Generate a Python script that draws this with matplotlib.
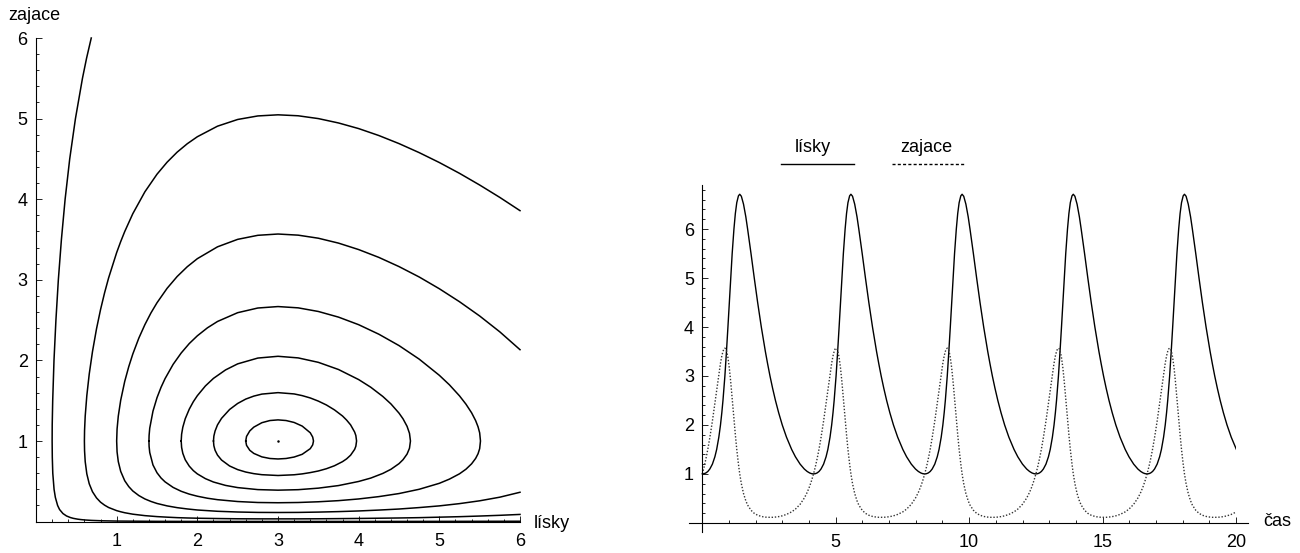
"""Lotka-Volterra: phase portrait (foxes vs hares) and time series of one orbit."""

import matplotlib
matplotlib.use("Agg")
import matplotlib.pyplot as plt
import matplotlib.patches as mpatches
from matplotlib.ticker import MultipleLocator, FixedLocator
import numpy as np

plt.rcParams["font.family"] = ["Liberation Sans", "DejaVu Sans"]

# ---------------------------------------------------------------- phase plot
# outermost open curve (x = foxes, y = hares), top to bottom-right
orbit_a_x = [0.685, 0.627, 0.576, 0.489, 0.418, 0.361, 0.315, 0.277, 0.247, 0.223,
             0.207, 0.201, 0.200, 0.202, 0.208, 0.224, 0.240, 0.268, 0.292, 0.334,
             0.378, 0.427, 0.464, 0.518, 0.557, 0.609, 0.687, 0.821,
             1.0, 1.5, 2.0, 3.0, 4.0, 5.0, 6.0]
orbit_a_y = [6.00, 5.75, 5.50, 5.00, 4.50, 4.00, 3.50, 3.00, 2.50, 2.00,
             1.50, 1.20, 1.00, 0.80, 0.60, 0.40, 0.30, 0.20, 0.15, 0.10,
             0.07, 0.05, 0.04, 0.03, 0.025, 0.02, 0.015, 0.010,
             0.0066, 0.0032, 0.0022, 0.0018, 0.0021, 0.0029, 0.0045]

# open curves leaving the frame at x = 6: upper and lower branch over the same x
orbit_b_x = [0.600, 0.602, 0.61, 0.63, 0.66, 0.70, 0.75, 0.80, 0.85, 0.90, 1.00, 1.05,
             1.10, 1.20, 1.35, 1.50, 1.625, 1.75, 1.875, 2.00, 2.25, 2.50, 2.75, 3.00,
             3.25, 3.50, 3.75, 4.00, 4.25, 4.50, 4.75, 5.00, 5.25, 5.50, 5.75, 6.00]
orbit_b_upper = [1.00, 1.132, 1.309, 1.563, 1.831, 2.108, 2.391, 2.630, 2.838, 3.023, 3.338, 3.474,
                 3.599, 3.820, 4.092, 4.310, 4.459, 4.584, 4.688, 4.775, 4.906, 4.989, 5.033, 5.047,
                 5.035, 5.000, 4.946, 4.876, 4.790, 4.690, 4.578, 4.455, 4.321, 4.176, 4.022, 3.858]
orbit_b_lower = [1.00, 0.879, 0.744, 0.592, 0.469, 0.371, 0.294, 0.241, 0.204, 0.175, 0.136, 0.122,
                 0.110, 0.092, 0.074, 0.062, 0.055, 0.049, 0.045, 0.042, 0.038, 0.035, 0.034, 0.034,
                 0.034, 0.035, 0.037, 0.039, 0.042, 0.045, 0.049, 0.055, 0.061, 0.069, 0.078, 0.089]

orbit_c_x = [1.00, 1.005, 1.02, 1.05, 1.10, 1.15, 1.20, 1.275, 1.35, 1.425, 1.50, 1.625,
             1.75, 1.875, 2.00, 2.25, 2.50, 2.75, 3.00, 3.25, 3.50, 3.75, 4.00, 4.25,
             4.50, 4.75, 5.00, 5.25, 5.50, 5.75, 6.00]
orbit_c_upper = [1.00, 1.148, 1.308, 1.506, 1.740, 1.923, 2.079, 2.277, 2.444, 2.589, 2.715, 2.894,
                 3.041, 3.162, 3.262, 3.409, 3.502, 3.552, 3.568, 3.554, 3.516, 3.455, 3.375, 3.278,
                 3.164, 3.035, 2.889, 2.728, 2.551, 2.354, 2.133]
orbit_c_lower = [1.00, 0.865, 0.745, 0.623, 0.507, 0.434, 0.380, 0.323, 0.281, 0.250, 0.225, 0.195,
                 0.173, 0.157, 0.144, 0.128, 0.119, 0.114, 0.113, 0.114, 0.118, 0.124, 0.132, 0.143,
                 0.156, 0.174, 0.195, 0.223, 0.258, 0.303, 0.364]

# closed orbits around the equilibrium (3, 1)
orbit_d_x = [1.40, 1.402, 1.41, 1.45, 1.50, 1.55, 1.60, 1.70, 1.80, 1.90, 2.00, 2.125,
             2.25, 2.50, 2.75, 3.00, 3.25, 3.50, 3.75, 4.00, 4.25, 4.50, 4.75, 5.00,
             5.125, 5.25, 5.33, 5.40, 5.45, 5.48, 5.50, 5.51]
orbit_d_upper = [1.00, 1.069, 1.159, 1.370, 1.537, 1.666, 1.774, 1.951, 2.092, 2.209, 2.305, 2.404,
                 2.483, 2.592, 2.650, 2.668, 2.652, 2.607, 2.537, 2.443, 2.325, 2.184, 2.016, 1.815,
                 1.697, 1.560, 1.457, 1.350, 1.253, 1.176, 1.101, 1.00]
orbit_d_lower = [1.00, 0.934, 0.857, 0.703, 0.606, 0.541, 0.493, 0.424, 0.376, 0.341, 0.315, 0.290,
                 0.272, 0.249, 0.237, 0.234, 0.237, 0.246, 0.260, 0.281, 0.310, 0.348, 0.401, 0.475,
                 0.527, 0.593, 0.650, 0.717, 0.784, 0.842, 0.905, 1.00]

orbit_e_x = [1.80, 1.805, 1.82, 1.85, 1.90, 1.95, 2.00, 2.10, 2.20, 2.35, 2.50, 2.75,
             3.00, 3.25, 3.50, 3.75, 4.00, 4.15, 4.30, 4.40, 4.50, 4.55, 4.60, 4.63, 4.642]
orbit_e_upper = [1.00, 1.084, 1.171, 1.276, 1.395, 1.487, 1.562, 1.683, 1.777, 1.882, 1.957, 2.029,
                 2.051, 2.031, 1.976, 1.887, 1.762, 1.667, 1.552, 1.460, 1.346, 1.275, 1.182, 1.095, 1.00]
orbit_e_lower = [1.00, 0.921, 0.847, 0.767, 0.688, 0.633, 0.592, 0.533, 0.491, 0.449, 0.422, 0.397,
                 0.390, 0.396, 0.415, 0.447, 0.498, 0.540, 0.598, 0.649, 0.719, 0.768, 0.838, 0.910, 1.00]

orbit_f_x = [2.20, 2.205, 2.22, 2.25, 2.30, 2.40, 2.50, 2.60, 2.70, 2.80, 3.00, 3.20,
             3.30, 3.40, 3.50, 3.60, 3.70, 3.80, 3.85, 3.90, 3.95, 3.965, 3.974]
orbit_f_upper = [1.00, 1.061, 1.124, 1.200, 1.281, 1.391, 1.466, 1.520, 1.557, 1.582, 1.600, 1.584,
                 1.563, 1.534, 1.495, 1.447, 1.386, 1.310, 1.260, 1.200, 1.111, 1.068, 1.00]
orbit_f_lower = [1.00, 0.941, 0.885, 0.825, 0.764, 0.690, 0.645, 0.615, 0.595, 0.582, 0.572, 0.581,
                 0.592, 0.608, 0.628, 0.656, 0.693, 0.744, 0.778, 0.824, 0.896, 0.935, 1.00]

orbit_g_x = [2.60, 2.61, 2.65, 2.70, 2.80, 2.90, 3.00, 3.10, 3.20, 3.30, 3.40, 3.43, 3.44]
orbit_g_upper = [1.00, 1.057, 1.125, 1.172, 1.227, 1.254, 1.262, 1.254, 1.230, 1.185, 1.102, 1.049, 1.00]
orbit_g_lower = [1.00, 0.946, 0.885, 0.846, 0.803, 0.783, 0.777, 0.783, 0.801, 0.835, 0.905, 0.952, 1.00]

equilibrium = (3.0, 1.0)

# ---------------------------------------------------------------- time series
# one period of the orbit starting at foxes = hares = 1
cycle_t = [0.000, 0.069, 0.134, 0.206, 0.280, 0.377, 0.470, 0.537, 0.618, 0.680,
           0.730, 0.773, 0.811, 0.845, 0.876, 0.904, 0.932, 0.959, 1.011, 1.062,
           1.118, 1.184, 1.237, 1.290, 1.353, 1.401, 1.462, 1.543, 1.630, 1.697,
           1.824, 1.946, 2.073, 2.210, 2.284, 2.362, 2.446, 2.535, 2.633, 2.740,
           2.860, 2.995, 3.154, 3.347, 3.488, 3.664, 3.821, 3.929, 4.020, 4.094, 4.167]
cycle_foxes = [1.000, 1.005, 1.020, 1.050, 1.100, 1.200, 1.350, 1.500, 1.750, 2.000,
               2.250, 2.500, 2.750, 3.000, 3.250, 3.500, 3.750, 4.000, 4.500, 5.000,
               5.500, 6.000, 6.318, 6.539, 6.679, 6.711, 6.670, 6.509, 6.249, 6.000,
               5.500, 5.000, 4.500, 4.000, 3.750, 3.500, 3.250, 3.000, 2.750, 2.500,
               2.250, 2.000, 1.750, 1.500, 1.350, 1.200, 1.100, 1.050, 1.020, 1.005, 1.000]
cycle_hares = [1.000, 1.148, 1.308, 1.506, 1.740, 2.079, 2.444, 2.715, 3.041, 3.262,
               3.409, 3.502, 3.552, 3.568, 3.554, 3.516, 3.455, 3.375, 3.164, 2.889,
               2.551, 2.133, 1.800, 1.500, 1.200, 1.000, 0.800, 0.600, 0.450, 0.364,
               0.258, 0.195, 0.156, 0.132, 0.124, 0.118, 0.114, 0.113, 0.114, 0.119,
               0.128, 0.144, 0.173, 0.225, 0.281, 0.380, 0.507, 0.623, 0.745, 0.865, 1.000]
cycle_starts = [0.0, 4.167, 8.334, 12.501, 16.668]
t_end = 20.0

W, H = 1300, 553
FS = 13
fig = plt.figure(figsize=(W / 100, H / 100), dpi=100)


def px_box(left, top, right, bottom):
    return [left / W, 1 - bottom / H, (right - left) / W, (bottom - top) / H]


def mathematica_axes(ax):
    for side in ("top", "right"):
        ax.spines[side].set_visible(False)
    for side in ("left", "bottom"):
        ax.spines[side].set_position(("data", 0))
        ax.spines[side].set_linewidth(0.8)
    ax.tick_params(which="both", direction="in", width=0.6, labelsize=FS)
    ax.tick_params(which="major", length=4.5)
    ax.tick_params(which="minor", length=2.5)
    ax.tick_params(axis="x", pad=8)
    ax.tick_params(axis="y", pad=6)


# --- left: phase portrait
ax1 = fig.add_axes(px_box(36, 38, 520, 521.6))
ax1.set_xlim(0, 6)
ax1.set_ylim(0, 6)
mathematica_axes(ax1)
ax1.xaxis.set_major_locator(FixedLocator([1, 2, 3, 4, 5, 6]))
ax1.yaxis.set_major_locator(FixedLocator([1, 2, 3, 4, 5, 6]))
ax1.xaxis.set_minor_locator(MultipleLocator(0.2))
ax1.yaxis.set_minor_locator(MultipleLocator(0.2))

kw = dict(color="black", lw=1.1, clip_on=False, solid_joinstyle="round")
ax1.plot(orbit_a_x, orbit_a_y, **kw)
for xs, up, lo in [(orbit_b_x, orbit_b_upper, orbit_b_lower),
                   (orbit_c_x, orbit_c_upper, orbit_c_lower)]:
    ax1.plot(xs[::-1] + xs[1:], up[::-1] + lo[1:], **kw)
for xs, up, lo in [(orbit_d_x, orbit_d_upper, orbit_d_lower),
                   (orbit_e_x, orbit_e_upper, orbit_e_lower),
                   (orbit_f_x, orbit_f_upper, orbit_f_lower),
                   (orbit_g_x, orbit_g_upper, orbit_g_lower)]:
    ax1.plot(xs + xs[::-1], up + lo[::-1], **kw)
ax1.plot([equilibrium[0]], [equilibrium[1]], marker="o", ms=0.8, color="black")

fig.text(8 / W, 1 - 15 / H, "zajace", fontsize=FS, va="center", ha="left")
fig.text(534 / W, 1 - 524 / H, "lísky", fontsize=FS, va="center", ha="left")

# --- right: time series
t_lo, t_hi = -0.5, 20.45
y_lo, y_hi = -0.18, 6.90
ax2 = fig.add_axes(px_box(689, 185, 1248, 531.7))
ax2.set_xlim(t_lo, t_hi)
ax2.set_ylim(y_lo, y_hi)
mathematica_axes(ax2)
ax2.xaxis.set_major_locator(FixedLocator([5, 10, 15, 20]))
ax2.xaxis.set_minor_locator(FixedLocator(list(range(1, 21))))
ax2.yaxis.set_major_locator(FixedLocator([1, 2, 3, 4, 5, 6]))
ax2.yaxis.set_minor_locator(MultipleLocator(0.2))

ct = np.array(cycle_t)
t_all = np.concatenate([s + ct for s in cycle_starts])
fox_all = np.concatenate([cycle_foxes for _ in cycle_starts])
hare_all = np.concatenate([cycle_hares for _ in cycle_starts])
keep = t_all <= t_end + 0.2
clip = mpatches.Rectangle((t_lo, y_lo), t_end - t_lo, y_hi - y_lo, transform=ax2.transData)

l_fox, = ax2.plot(t_all[keep], fox_all[keep], color="black", lw=1.0)
l_hare, = ax2.plot(t_all[keep], hare_all[keep], color="#333333", lw=1.0,
                   linestyle=(0, (1.0, 1.3)))
for ln in (l_fox, l_hare):
    ln.set_clip_path(clip)

fig.text(1263 / W, 1 - 522 / H, "čas", fontsize=FS, va="center", ha="left")

# legend drawn as in the original: labels over line samples
fig.text(813 / W, 1 - 147 / H, "lísky", fontsize=FS, va="center", ha="center")
fig.text(926 / W, 1 - 147 / H, "zajace", fontsize=FS, va="center", ha="center")
fig.add_artist(plt.Line2D([781 / W, 854 / W], [1 - 164 / H] * 2, color="black", lw=1.0))
fig.add_artist(plt.Line2D([892 / W, 965 / W], [1 - 164 / H] * 2, color="black", lw=1.0,
                          linestyle=(0, (2.2, 1.6))))

fig.savefig("out.png", dpi=100)
